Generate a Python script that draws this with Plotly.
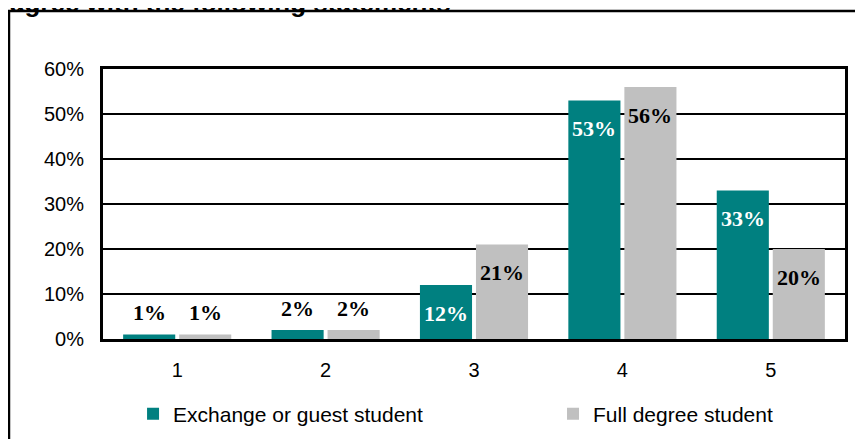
import plotly.graph_objects as go

categories = ["1", "2", "3", "4", "5"]
exchange = [1, 2, 12, 53, 33]
full_degree = [1, 2, 21, 56, 20]
series_names = ["Exchange or guest student", "Full degree student"]
title_text = "agree with the following statements"

TEAL = "#008080"
GRAY = "#C0C0C0"
SANS = "Liberation Sans, Arial, sans-serif"
SERIF = "Liberation Serif, Times New Roman, serif"

fig = go.Figure()
fig.add_trace(go.Bar(x=categories, y=exchange, name=series_names[0],
                     marker=dict(color=TEAL, line=dict(width=0)), legend="legend"))
fig.add_trace(go.Bar(x=categories, y=full_degree, name=series_names[1],
                     marker=dict(color=GRAY, line=dict(width=0)), legend="legend2"))

annotations = []
for vals, shift, inside_color in ((exchange, -28, "white"), (full_degree, 28, "black")):
    for i, v in enumerate(vals):
        inside = v >= 10
        annotations.append(dict(
            x=i, y=v, xref="x", yref="y", xshift=shift,
            yshift=-28 if inside else 22,
            text=f"<b>{v}%</b>", showarrow=False, xanchor="center", yanchor="middle",
            font=dict(family=SERIF, size=22, color=inside_color if inside else "black"),
        ))

annotations.append(dict(
    x=-0.128, y=1.2444, xref="paper", yref="paper", xanchor="left", yanchor="middle",
    text=f"<b>{title_text}</b>", showarrow=False,
    font=dict(family=SANS, size=26, color="black"),
))

legend_common = dict(orientation="h", y=0.058, yref="container", xanchor="left", yanchor="middle",
                     font=dict(family=SANS, size=21, color="black"),
                     bgcolor="rgba(0,0,0,0)", itemclick=False, itemdoubleclick=False)

fig.update_layout(
    width=855, height=431,
    margin=dict(l=95, r=18, t=61, b=100),
    paper_bgcolor="white", plot_bgcolor="white",
    barmode="group", bargap=0.245, bargroupgap=0.07,
    showlegend=True,
    legend=dict(x=0.0405, **legend_common),
    legend2=dict(x=0.6065, **legend_common),
    annotations=annotations,
    shapes=[dict(type="rect", xref="paper", yref="paper",
                 x0=-0.1267, y0=-0.45, x1=1.1, y1=1.2148,
                 line=dict(color="black", width=2.5), layer="below")],
    font=dict(family=SANS, size=20, color="black"),
)
fig.update_xaxes(type="category", showgrid=False, ticks="", showline=True,
                 linecolor="black", linewidth=3, mirror=True,
                 tickfont=dict(family=SANS, size=20, color="black"), ticklabelstandoff=11)
fig.update_yaxes(range=[0, 60], dtick=10, ticksuffix="%", showgrid=True,
                 gridcolor="black", gridwidth=2, showline=True, linecolor="black",
                 linewidth=3, mirror=True, zeroline=False, ticks="",
                 tickfont=dict(family=SANS, size=20, color="black"), ticklabelstandoff=12)

fig.write_html("out.html")
